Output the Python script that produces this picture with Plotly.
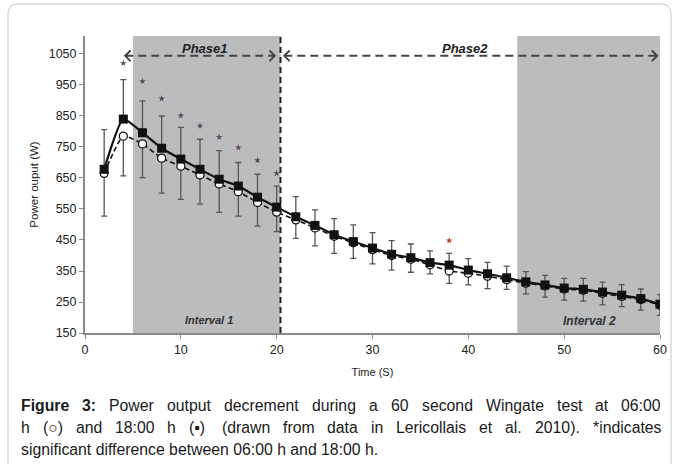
import plotly.graph_objects as go

# ---------------- data ----------------
time_s = [2, 4, 6, 8, 10, 12, 14, 16, 18, 20, 22, 24, 26, 28, 30,
          32, 34, 36, 38, 40, 42, 44, 46, 48, 50, 52, 54, 56, 58, 60]
power_18h = [678, 840, 796, 746, 711, 678, 646, 624, 588, 556, 525, 497, 467, 445, 424,
             404, 393, 377, 369, 353, 341, 328, 315, 305, 295, 291, 282, 272, 261, 243]
power_06h = [665, 785, 760, 714, 688, 660, 631, 606, 571, 540, 515, 489, 462, 441, 419,
             400, 388, 370, 350, 343, 333, 322, 311, 302, 292, 288, 278, 268, 258, 240]
err_top_18h = [806, 967, 899, 850, 813, 775, 738, 700, 662, 624, 590, 547, 519, 499, 474,
               448, 437, 415, 407, 390, 378, 366, 348, 336, 326, 326, 314, 306, 292, 274]
err_bottom_06h = [527, 657, 651, 601, 581, 566, 539, 527, 495, 477, 455, 431, 407, 391, 373,
                  353, 346, 341, 310, 305, 293, 291, 276, 266, 256, 253, 241, 235, 224, 207]
star_time = [4, 6, 8, 10, 12, 14, 16, 18, 20, 38]
star_power = [1020, 962, 906, 851, 818, 782, 748, 707, 665, 448]
star_colors = ["#5b4a55"] * 9 + ["#c0392b"]

y_ticks = [150, 250, 350, 450, 550, 650, 750, 850, 950, 1050]
x_ticks = [0, 10, 20, 30, 40, 50, 60]

interval1 = (5.0, 20.4)
interval2 = (45.1, 60.0)
phase_split = 20.4
phase_y = 1044

caption_line1 = ["<b>Figure</b>", "<b>3:</b>", "Power", "output", "decrement", "during", "a",
                 "60", "second", "Wingate", "test", "at", "06:00"]
caption_line2 = ["h", "(\u25cb)", "and", "18:00", "h", "(\u25aa)", "(drawn", "from", "data", "in",
                 "Lericollais", "et", "al.", "2010).", "*indicates"]
caption_line3 = "significant difference between 06:00 h and 18:00 h."

# ---------------- figure ----------------
FONT = "Liberation Sans, Arial, sans-serif"
CAP_SIZE = 15.8
fig = go.Figure()

up18 = [t - p for t, p in zip(err_top_18h, power_18h)]
down06 = [p - b for p, b in zip(power_06h, err_bottom_06h)]

fig.add_trace(go.Scatter(
    x=time_s, y=power_06h, mode="lines+markers",
    line=dict(color="#111111", width=1.6, dash="5px,3px", shape="spline", smoothing=0.5),
    marker=dict(symbol="circle", size=8, color="white", line=dict(color="#111111", width=1.3)),
    error_y=dict(type="data", symmetric=False, array=[0] * len(time_s), arrayminus=down06,
                 color="#555555", thickness=1.3, width=3),
    showlegend=False,
))
fig.add_trace(go.Scatter(
    x=time_s, y=power_18h, mode="lines+markers",
    line=dict(color="#111111", width=2.2, shape="spline", smoothing=0.5),
    marker=dict(symbol="square", size=9, color="#111111"),
    error_y=dict(type="data", symmetric=False, array=up18, arrayminus=[0] * len(time_s),
                 color="#555555", thickness=1.3, width=3),
    showlegend=False,
))
fig.add_trace(go.Scatter(
    x=star_time, y=star_power, mode="markers",
    marker=dict(symbol="star", size=5, color=star_colors),
    showlegend=False,
))

shapes = []
for (a, b) in (interval1, interval2):
    shapes.append(dict(type="rect", xref="x", yref="paper", x0=a, x1=b, y0=0, y1=1,
                       fillcolor="#bbbcbe", line=dict(width=0), layer="below"))
shapes.append(dict(type="line", xref="x", yref="paper", x0=phase_split, x1=phase_split,
                   y0=0, y1=1, line=dict(color="#222222", width=2, dash="6px,4px")))

arrow_col = "#444444"
def phase_arrow(x0, x1):
    out = [dict(type="line", xref="x", yref="y", x0=x0, x1=x1, y0=phase_y, y1=phase_y,
                line=dict(color=arrow_col, width=2, dash="8px,5px"))]
    dx, dy = 0.55, 17
    for tip, sgn in ((x0, 1), (x1, -1)):
        out.append(dict(type="path", xref="x", yref="y",
                        path=f"M {tip + sgn*dx} {phase_y + dy} L {tip} {phase_y} L {tip + sgn*dx} {phase_y - dy}",
                        line=dict(color=arrow_col, width=2)))
    return out
shapes += phase_arrow(4.2, 19.8)
shapes += phase_arrow(20.8, 59.7)

# rounded border box (paper coords)
L, T = 85, 36
W, H = 575, 297
def px(x): return (x - L) / W
def py(y): return (T + H - y) / H
bx0, bx1, by0, by1, r = 8, 671, 4, 475, 10
path = (f"M {px(bx0 + r)} {py(by0)} L {px(bx1 - r)} {py(by0)} "
        f"Q {px(bx1)} {py(by0)} {px(bx1)} {py(by0 + r)} L {px(bx1)} {py(by1)} "
        f"M {px(bx0)} {py(by1)} L {px(bx0)} {py(by0 + r)} "
        f"Q {px(bx0)} {py(by0)} {px(bx0 + r)} {py(by0)}")
shapes.append(dict(type="path", xref="paper", yref="paper", path=path,
                   line=dict(color="#c8c8c8", width=1)))

annotations = [
    dict(x=12.55, y=1069, xref="x", yref="y", text="<b><i>Phase1</i></b>", showarrow=False,
         font=dict(size=13, color="#222222", family=FONT)),
    dict(x=39.7, y=1069, xref="x", yref="y", text="<b><i>Phase2</i></b>", showarrow=False,
         font=dict(size=13, color="#222222", family=FONT)),
    dict(x=12.97, y=192, xref="x", yref="y", text="<b><i>Interval 1</i></b>", showarrow=False,
         font=dict(size=11, color="#333333", family=FONT)),
    dict(x=52.6, y=189, xref="x", yref="y", text="<b><i>Interval 2</i></b>", showarrow=False,
         font=dict(size=12, color="#333333", family=FONT)),
]

# approximate Arial/Liberation Sans advance widths (per 1000 em) for justification
REG = {' ': 278, '(': 333, ')': 333, '*': 389, '.': 278, ',': 278, ':': 278,
       'a': 556, 'b': 556, 'c': 500, 'd': 556, 'e': 556, 'f': 278, 'g': 556, 'h': 556,
       'i': 222, 'j': 222, 'k': 500, 'l': 222, 'm': 833, 'n': 556, 'o': 556, 'p': 556,
       'q': 556, 'r': 333, 's': 500, 't': 278, 'u': 556, 'v': 500, 'w': 722, 'x': 500,
       'y': 500, 'z': 500, 'F': 611, 'P': 667, 'W': 944, 'L': 556, 'H': 722,
       '\u25cb': 604, '\u25aa': 604}
BOLD = {'F': 611, 'i': 278, 'g': 611, 'u': 611, 'r': 389, 'e': 556, ':': 333}
def word_width(w):
    bold = w.startswith("<b>")
    s = w.replace("<b>", "").replace("</b>", "")
    tot = 0
    for ch in s:
        if ch.isdigit():
            tot += 556
        elif bold:
            tot += BOLD.get(ch, REG.get(ch, 556))
        else:
            tot += REG.get(ch, 556)
    return tot * CAP_SIZE / 1000.0

def justified(words, y, x_left=20, x_right=660):
    widths = [word_width(w) for w in words]
    gap = (x_right - x_left - sum(widths)) / (len(words) - 1)
    x = x_left
    out = []
    for w, wd in zip(words, widths):
        out.append(dict(x=px(x), y=py(y), xref="paper", yref="paper", xanchor="left",
                        yanchor="middle", text=w, showarrow=False, borderpad=0,
                        font=dict(size=CAP_SIZE, color="#1a1a1a", family=FONT)))
        x += wd + gap
    return out

annotations += justified(caption_line1, 405)
annotations += justified(caption_line2, 427)
annotations.append(dict(x=px(20), y=py(449), xref="paper", yref="paper", xanchor="left",
                        yanchor="middle", text=caption_line3, showarrow=False, borderpad=0,
                        font=dict(size=CAP_SIZE, color="#1a1a1a", family=FONT)))

fig.update_layout(
    width=681, height=464,
    margin=dict(l=L, r=681 - L - W, t=T, b=464 - T - H),
    paper_bgcolor="white", plot_bgcolor="white",
    font=dict(family=FONT, color="#222222"),
    shapes=shapes, annotations=annotations,
    xaxis=dict(range=[0, 60], tickvals=x_ticks, ticks="outside", ticklen=4, tickcolor="#888888",
               showline=True, linecolor="#8a8a8a", linewidth=2, showgrid=False, zeroline=False,
               tickfont=dict(size=12.5, color="#222222"),
               title=dict(text="Time (S)", font=dict(size=11, color="#222222"), standoff=12)),
    yaxis=dict(range=[150, 1108], tickvals=y_ticks, ticks="outside", ticklen=4, tickcolor="#888888",
               showline=True, linecolor="#8a8a8a", linewidth=2, showgrid=False, zeroline=False,
               tickfont=dict(size=12.5, color="#222222"),
               title=dict(text="Power ouput (W)", font=dict(size=11.5, color="#222222"), standoff=8)),
)

fig.write_html("out.html")
